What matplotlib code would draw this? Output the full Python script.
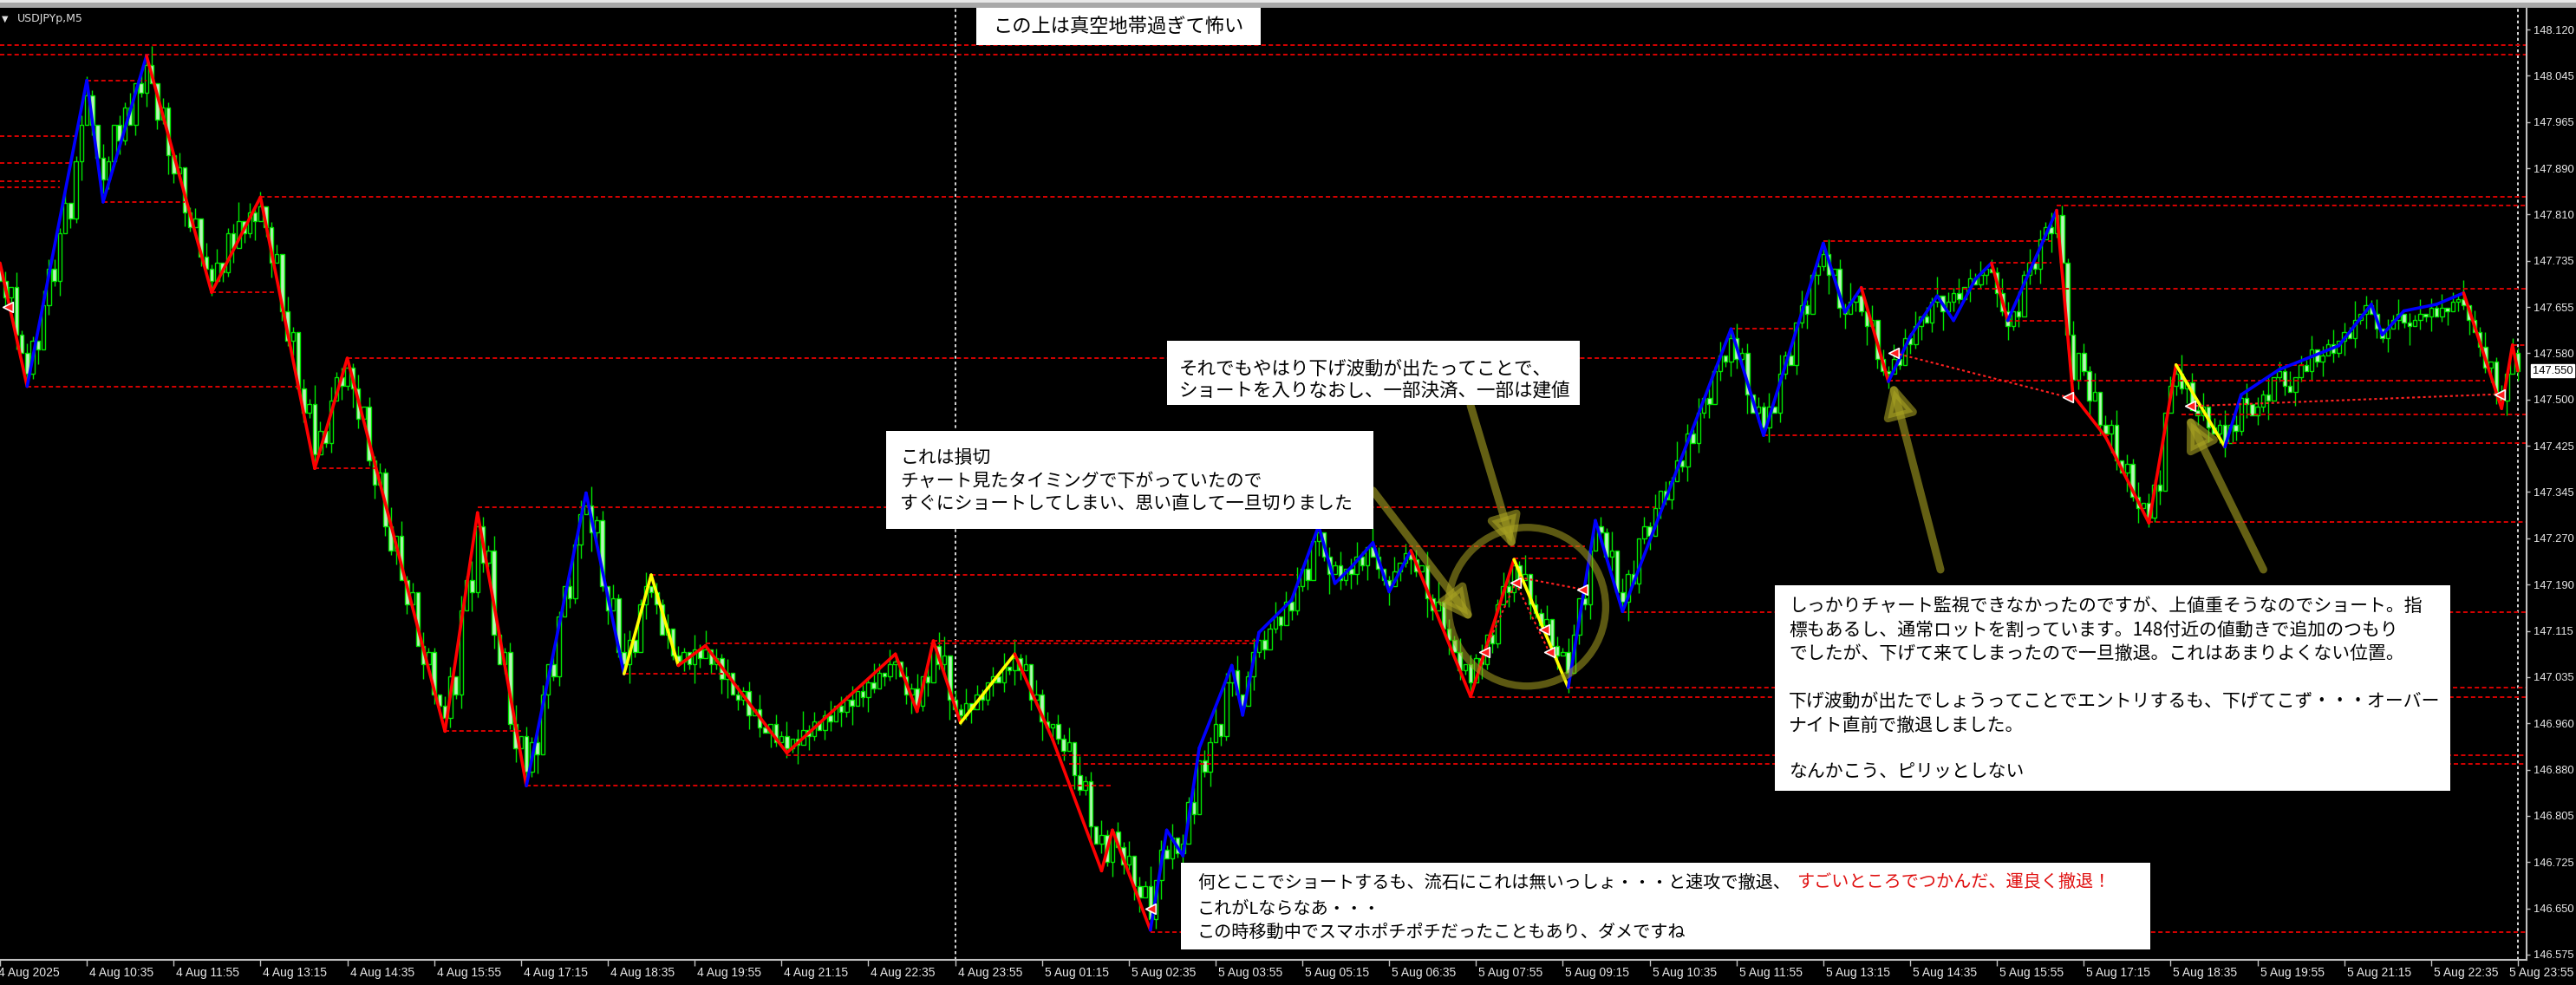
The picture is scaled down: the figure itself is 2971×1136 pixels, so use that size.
import numpy as np
import matplotlib.pyplot as plt
from matplotlib.patches import Rectangle, Ellipse

plt.rcParams['font.family'] = ['DejaVu Sans']
JP = ['Noto Sans CJK JP', 'DejaVu Sans']
AXF = ['Liberation Sans', 'DejaVu Sans']

# M5 closes, in points (0.001) above 146.000, bar 0 = 4 Aug 09:15
close_pts = [
    1700, 1672, 1690, 1610, 1580, 1545,                                   # 0-5
    1600, 1585, 1660, 1720, 1700, 1780, 1830, 1805, 1900, 1960, 2010,     # 6-16
    1960, 1905, 1870,                                                     # 17-19
    1900, 1960, 1935, 1990, 1960, 2030, 2015, 2060,                       # 20-27
    2030, 1970, 1990, 1910, 1880, 1890, 1815, 1790, 1805, 1740, 1720, 1700,
    1730, 1715, 1780, 1755, 1800, 1780, 1815, 1800, 1825,                 # 40-48
    1790, 1730, 1745, 1650, 1600, 1615, 1520, 1480, 1495, 1410,           # 49-58
    1450, 1430, 1500, 1540, 1525, 1555,                                   # 59-64
    1520, 1470, 1490, 1400, 1360, 1380, 1290, 1250, 1275, 1200, 1160, 1180,
    1090, 1060, 1080, 1010, 990, 970,                                     # 65-82
    1040, 1010, 1150, 1200, 1180, 1290,                                   # 83-88
    1230, 1250, 1110, 1060, 1080, 960, 920, 940, 880,                     # 89-97
    930, 910, 1010, 1060, 1040, 1140, 1190, 1170, 1260, 1310, 1325,       # 98-108
    1280, 1300, 1190, 1150, 1170, 1080, 1060,                             # 109-115
    1100, 1080, 1160, 1190, 1180,                                         # 116-120
    1160, 1110, 1120, 1075, 1065,                                         # 121-125
    1080, 1060, 1085, 1070, 1085,                                         # 126-130
    1060, 1070, 1035, 1045, 1010, 1000, 1015, 975, 985, 955, 945, 960, 930, 940, 920,
    935, 925, 950, 940, 965, 950, 975, 965, 990, 980, 1000, 990, 1015, 1005, 1030,
    1020, 1045, 1040, 1060, 1065,                                         # 146-165
    1040, 1010, 1020, 990,                                                # 166-169
    1040, 1030, 1090,                                                     # 170-172
    1060, 1075, 1000, 985, 975,                                           # 173-177
    995, 985, 1010, 1000, 1030, 1040, 1030, 1055, 1050, 1070,             # 178-187
    1050, 1060, 1000, 1010, 965, 955, 960, 935, 915, 930, 875, 850, 865, 790, 760,
    775, 730, 780, 755, 725, 740, 690, 670, 690, 635,                     # 188-212
    700, 750, 735, 770, 745, 760, 830, 810, 900, 880, 930, 960, 940, 1030, 1050,
    1010, 990, 1040, 1080, 1100, 1085, 1120, 1140, 1125, 1165, 1150, 1190, 1220,
    1200, 1265, 1280,                                                     # 213-243
    1240, 1210, 1225, 1200, 1220, 1210, 1240, 1225, 1255, 1240, 1220, 1200, 1190,
    1215, 1230, 1245, 1235,                                               # 244-260
    1215, 1225, 1170, 1150, 1165, 1120, 1100, 1080, 1050, 1060, 1030,     # 261-271
    1070, 1060, 1110, 1095, 1160, 1190, 1180, 1225,                       # 272-279
    1200, 1210, 1160, 1145, 1125, 1135, 1090, 1075, 1080, 1045,           # 280-289
    1110, 1170, 1160, 1250, 1290, 1280,                                   # 290-295
    1240, 1250, 1180, 1165,                                               # 296-299
    1210, 1195, 1270, 1290, 1275, 1320, 1350, 1335, 1365, 1400, 1390, 1445, 1430,
    1480, 1505, 1495, 1550, 1575, 1565, 1605,                             # 300-319
    1570, 1580, 1510, 1480, 1490, 1455,                                   # 320-325
    1490, 1480, 1545, 1575, 1560, 1630, 1660, 1645, 1710, 1725, 1745,     # 326-336
    1710, 1720, 1655, 1645, 1665, 1675, 1650, 1625, 1635, 1570, 1550, 1545,
    1570, 1560, 1605, 1595, 1625, 1640, 1630, 1665, 1675, 1650, 1665, 1680, 1670,
    1690, 1705, 1695, 1710, 1720, 1715,                                   # 349-367
    1680, 1650, 1625,                                                     # 368-370
    1650, 1640, 1710, 1730, 1720, 1770, 1790, 1780, 1810,                 # 371-379
    1730, 1610, 1535, 1580, 1550, 1500, 1515, 1460, 1445, 1460, 1400, 1380, 1395,
    1340, 1320, 1330, 1305,                                               # 380-396
    1360, 1350, 1480, 1525, 1545,                                         # 397-401
    1520, 1530, 1485, 1475, 1490, 1455, 1445, 1460, 1430,                 # 402-410
    1460, 1450, 1505, 1495, 1475, 1490, 1510, 1500, 1540, 1550, 1525, 1515, 1540,
    1560, 1550, 1585, 1565, 1575, 1595, 1580, 1600, 1615, 1605, 1635, 1645, 1660,
    1645, 1620, 1605, 1620, 1635, 1645, 1630, 1625, 1635, 1645, 1640, 1655, 1640,
    1655, 1650, 1665, 1670, 1660,                                         # 411-454
    1635, 1615, 1590, 1555, 1565, 1510, 1500, 1545, 1580, 1550,           # 455-464
]
first_open_pts = 1720

# wick lengths per bar, one digit per bar, in units of 8 points
wick_hi = ("1203121032 2130124103 1021302140 2103012031 3012402130 1203102142 "
           "0312013021 2140312031 1022031402 1301240213 2031021304 1203142013 "
           "0213021031 4021302120 3102130241 2013021302 1420310213 0213402130 "
           "2102130412 0312021304 1203102130 2140213021 3021402130 1302130214 "
           "0213021302 3104201302 1203140213 0213021320 1402130213 2031021403 "
           "1302130214 0213021302 3120213041 2031021302 1402130213 0213021402 "
           "1302130213 2041302130 2130214021 3021302130 2140213021 3021302140 "
           "2130213021 3021402130 2130213021 3021402130 1203102130")
wick_lo = ("0213021302 1302140213 2031021302 1420310213 0213021402 3021302130 "
           "1203142013 0213021031 2102130412 1302130214 0312021304 2130124103 "
           "1203102142 0213402130 2031021403 1022031402 3102130241 1301240213 "
           "0213021320 2140312031 1402130213 3012402130 2013021302 0312013021 "
           "1203140213 2130214021 3104201302 1203121032 2031021304 0213021302 "
           "4021302120 1302130213 2140213021 0213021402 3021402130 1021302140 "
           "2103012031 3120213041 1302130214 2041302130 0213021302 3021302140 "
           "1203102130 2130213021 3021402130 1302130213 2130213021")

# zigzag swing points (bar, points) and colour of each segment
zz_bars = [0, 5, 16, 19, 27, 39, 48, 58, 64, 82, 88, 97, 108, 115, 120, 125, 130,
           145, 165, 169, 172, 177, 187, 194, 203, 205, 212, 215, 218, 221, 227,
           229, 232, 238, 243, 246, 249, 253, 256, 260, 271, 279, 289, 294, 299,
           319, 325, 336, 340, 343, 348, 352, 357, 360, 364, 367, 370, 379, 382,
           388, 396, 401, 410, 413, 420, 431, 437, 439, 443, 449, 454, 461, 463, 464]
zz_pts = [1730, 1524, 2035, 1832, 2076, 1681, 1840, 1387, 1571, 948, 1313, 857,
          1346, 1044, 1209, 1058, 1091, 912, 1077, 981, 1099, 962, 1077, 934, 715,
          783, 616, 783, 740, 920, 1058, 975, 1113, 1167, 1291, 1195, 1222, 1263,
          1181, 1250, 1006, 1235, 1021, 1300, 1148, 1620, 1442, 1763, 1648, 1689,
          1532, 1607, 1675, 1634, 1703, 1730, 1634, 1818, 1510, 1440, 1296, 1560,
          1423, 1510, 1552, 1592, 1661, 1610, 1650, 1661, 1680, 1487, 1593, 1550]
zz_cols = ("rbbbrrrrrr" "rbbyyrrrrr" "ryrrrrbbbb" "bbbbbbbbbr"
           "rybbbbbbbr" "bbbbbrbrrr" "rybbbbbbbb" "rrr")

# red dashed levels: (bar from, bar to, points)
levels = [
    (0, 467, 2094), (0, 467, 2078), (0, 14, 1942), (0, 13, 1897), (0, 11, 1866),
    (0, 11, 1857), (16, 27, 2035), (19, 34, 1832), (48, 467, 1841), (5, 55, 1524),
    (39, 51, 1681), (58, 69, 1387), (64, 316, 1571), (88, 305, 1322), (82, 96, 948),
    (97, 205, 857), (115, 134, 1044), (120, 239, 1209), (130, 231, 1095),
    (172, 232, 1099), (145, 467, 908), (197, 467, 894), (212, 467, 613),
    (253, 292, 1257), (279, 291, 1237), (271, 467, 1005), (289, 467, 1021),
    (299, 467, 1147), (319, 331, 1620), (325, 389, 1442), (336, 378, 1766),
    (343, 467, 1687), (348, 458, 1534), (367, 378, 1730), (370, 381, 1634),
    (379, 467, 1826), (396, 467, 1298), (401, 425, 1560), (402, 467, 1477),
    (410, 467, 1430), (463, 467, 1593),
]

# trade arrows and trade history lines
marks = [(1.5, 1656), (212, 652), (273.5, 1080), (279.3, 1196), (284.5, 1118),
         (285.5, 1080), (291.6, 1185), (349, 1580), (381, 1506), (403.6, 1491),
         (460.7, 1511)]
trade_lines = [(273.5, 1080, 279.3, 1196), (279.3, 1196, 285.5, 1080),
               (280, 1205, 291.6, 1185), (349, 1580, 381, 1506),
               (403.6, 1491, 460.7, 1511)]

price_labels = ["146.575", "146.650", "146.725", "146.805", "146.880", "146.960",
                "147.035", "147.115", "147.190", "147.270", "147.345", "147.425",
                "147.500", "147.580", "147.655", "147.735", "147.810", "147.890",
                "147.965", "148.045", "148.120"]
time_labels = ["4 Aug 2025", "4 Aug 10:35", "4 Aug 11:55", "4 Aug 13:15",
               "4 Aug 14:35", "4 Aug 15:55", "4 Aug 17:15", "4 Aug 18:35",
               "4 Aug 19:55", "4 Aug 21:15", "4 Aug 22:35", "4 Aug 23:55",
               "5 Aug 01:15", "5 Aug 02:35", "5 Aug 03:55", "5 Aug 05:15",
               "5 Aug 06:35", "5 Aug 07:55", "5 Aug 09:15", "5 Aug 10:35",
               "5 Aug 11:55", "5 Aug 13:15", "5 Aug 14:35", "5 Aug 15:55",
               "5 Aug 17:15", "5 Aug 18:35", "5 Aug 19:55", "5 Aug 21:15",
               "5 Aug 22:35", "5 Aug 23:55"]
current_price = 147.550

note_top = "この上は真空地帯過ぎて怖い"
note_loss = ["これは損切", "チャート見たタイミングで下がっていたので",
             "すぐにショートしてしまい、思い直して一旦切りました"]
note_reentry = ["それでもやはり下げ波動が出たってことで、",
                "ショートを入りなおし、一部決済、一部は建値"]
note_right = ["しっかりチャート監視できなかったのですが、上値重そうなのでショート。指",
              "標もあるし、通常ロットを割っています。148付近の値動きで追加のつもり",
              "でしたが、下げて来てしまったので一旦撤退。これはあまりよくない位置。",
              "",
              "下げ波動が出たでしょうってことでエントリするも、下げてこず・・・オーバー",
              "ナイト直前で撤退しました。",
              "",
              "なんかこう、ピリッとしない"]
note_bottom = ["何とここでショートするも、流石にこれは無いっしょ・・・と速攻で撤退、",
               "これがLならなあ・・・",
               "この時移動中でスマホポチポチだったこともあり、ダメですね"]
note_bottom_red = "すごいところでつかんだ、運良く撤退！"

# ---------------------------------------------------------------------------
n = len(close_pts)
closes = 146 + np.array(close_pts) / 1000
opens = np.r_[146 + first_open_pts / 1000, closes[:-1]]
hi_ext = np.array([int(c) for c in wick_hi.replace(" ", "")[:n]]) * 0.008
lo_ext = np.array([int(c) for c in wick_lo.replace(" ", "")[:n]]) * 0.008
body_lo = np.minimum(opens, closes)
body_hi = np.maximum(opens, closes)
x = np.arange(n)

W, H = 2971, 1136
fig = plt.figure(figsize=(W / 100, H / 100), dpi=100, facecolor='black')
ax = fig.add_axes([0, (H - 1107) / H, 2914 / W, (1107 - 9) / H])
ax.set_facecolor('black')
ax.set_xlim(0.64, 465.6)
ax.set_ylim(146.5663, 148.1562)

# candles
ax.vlines(x, body_lo - lo_ext, body_hi + hi_ext, color='#00e600', lw=1.0, zorder=2)
face = ['black' if c >= o else '#b8f5b8' for o, c in zip(opens, closes)]
ax.bar(x, np.maximum(body_hi - body_lo, 0.0008), bottom=body_lo, width=0.72,
       color=face, edgecolor='#00e600', linewidth=1.0, zorder=2.1)

# levels
for b0, b1, p in levels:
    ax.hlines(146 + p / 1000, b0, b1, colors='#d80000', lw=1.4,
              linestyles=(0, (2.6, 1.7)), zorder=2.5)

# day separators
for b in [176, 464]:
    ax.axvline(b, color='white', lw=1.2, ls=(0, (2, 2)), zorder=1.5)

# zigzag
cmap = {'r': '#ff0000', 'b': '#0000ff', 'y': '#ffff00'}
zp = 146 + np.array(zz_pts) / 1000
for i, c in enumerate(zz_cols):
    ax.plot(zz_bars[i:i + 2], zp[i:i + 2], color=cmap[c], lw=2.6,
            solid_capstyle='round', zorder=3)

# trades
for b0, p0, b1, p1 in trade_lines:
    ax.plot([b0, b1], [146 + p0 / 1000, 146 + p1 / 1000], color='#ff2020',
            lw=1.5, ls=(0, (1.5, 1.5)), zorder=3.2)
mb, mp = zip(*marks)
ax.scatter(mb, 146 + np.array(mp) / 1000, marker='<', s=70, c='#ff2020',
           edgecolors='white', linewidths=1.2, zorder=3.5)

# olive circle and arrows
olive = '#a8a222'
ax.add_patch(Ellipse((281.4, 147.156), 29.0, 0.265, fill=False, ec=olive,
                     lw=6, alpha=0.55, zorder=4))
arrows = [((253, 147.350), (271.5, 147.131)),
          ((271, 147.492), (279, 147.250)),
          ((357.6, 147.218), (348.6, 147.532)),
          ((417.1, 147.218), (403.0, 147.477))]
for tail, head in arrows:
    ax.annotate('', xy=head, xytext=tail, zorder=4,
                arrowprops=dict(arrowstyle='-|>,head_length=1.2,head_width=0.6',
                                lw=6.5, color=olive, alpha=0.6, shrinkA=0,
                                shrinkB=0, mutation_scale=18))

# axes styling
for s in ['top', 'left']:
    ax.spines[s].set_visible(False)
for s in ['right', 'bottom']:
    ax.spines[s].set_color('#c0c0c0')
    ax.spines[s].set_linewidth(1.5)
ax.yaxis.tick_right()
ax.set_yticks(np.linspace(146.575, 148.120, 21))
ax.set_yticklabels(price_labels, family=AXF)
ax.tick_params(axis='y', colors='#c0c0c0', labelcolor='#e8e8e8', labelsize=9.3,
               length=3, width=1, pad=3)
tick_bars = np.arange(0, n, 16)
ax.set_xticks(tick_bars)
ax.set_xticklabels([])
ax.tick_params(axis='x', colors='#c0c0c0', length=5, width=1)
last = len(tick_bars) - 1
for i, (b, s) in enumerate(zip(tick_bars, time_labels)):
    dx = {0: 2 - 0.64 * 6.26}.get(i, 3)
    ha = 'left'
    if i == last:
        dx, ha = 2968 - 2904, 'right'
    ax.annotate(s, xy=(b, 0), xycoords=('data', 'axes fraction'),
                xytext=(dx * 0.72, -15 * 0.72), textcoords='offset points',
                ha=ha, va='center', fontsize=10, family=AXF, color='#e8e8e8',
                annotation_clip=False)
ax.annotate(f"{current_price:.3f}", xy=(1.0, current_price),
            xycoords=('axes fraction', 'data'), xytext=(5, 0),
            textcoords='offset points', ha='left', va='center', fontsize=9.3,
            family=AXF, color='black', annotation_clip=False,
            bbox=dict(boxstyle='square,pad=0.12', fc='white', ec='white'))

# window top bar and title
fig.add_artist(Rectangle((0, 1 - 9 / H), 1, 9 / H, transform=fig.transFigure,
                         fc='#a8a8a8', ec='none', zorder=9))
fig.add_artist(Rectangle((0, 1 - 3 / H), 1, 3 / H, transform=fig.transFigure,
                         fc='#e8e8e8', ec='none', zorder=9))
fig.text(2 / W, 1 - 22 / H, "▼", fontsize=7, color='#e0e0e0', va='center',
         ha='left', zorder=11)
fig.text(20 / W, 1 - 22 / H, "USDJPYp,M5", fontsize=9, color='#e0e0e0',
         va='center', ha='left', zorder=11)


def box(x0, y0, x1, y1):
    fig.add_artist(Rectangle((x0 / W, 1 - y1 / H), (x1 - x0) / W, (y1 - y0) / H,
                             transform=fig.transFigure, fc='white', ec='none',
                             zorder=10))


def lines(x0, ys, texts, size, color='black'):
    for yy, t in zip(ys, texts):
        if t:
            fig.text(x0 / W, 1 - yy / H, t, family=JP, fontsize=size, color=color,
                     va='center', ha='left', zorder=11)


box(1126, 9, 1454, 52)
fig.text(1290 / W, 1 - 31 / H, note_top, family=JP, fontsize=16, color='black',
         ha='center', va='center', zorder=11)
box(1022, 497, 1584, 610)
lines(1038, [528, 555, 581], note_loss, 15)
box(1346, 393, 1822, 467)
lines(1360, [426, 450], note_reentry, 15.5)
box(2047, 675, 2826, 912)
lines(2063, [699, 727, 754, 782, 809, 837, 864, 890], note_right, 15)
box(1362, 995, 2480, 1095)
lines(1381, [1018, 1048, 1075], note_bottom, 14.5)
lines(2072, [1018], [note_bottom_red], 14.5, color='#e01010')

fig.savefig('out.png', dpi=100, facecolor='black')
